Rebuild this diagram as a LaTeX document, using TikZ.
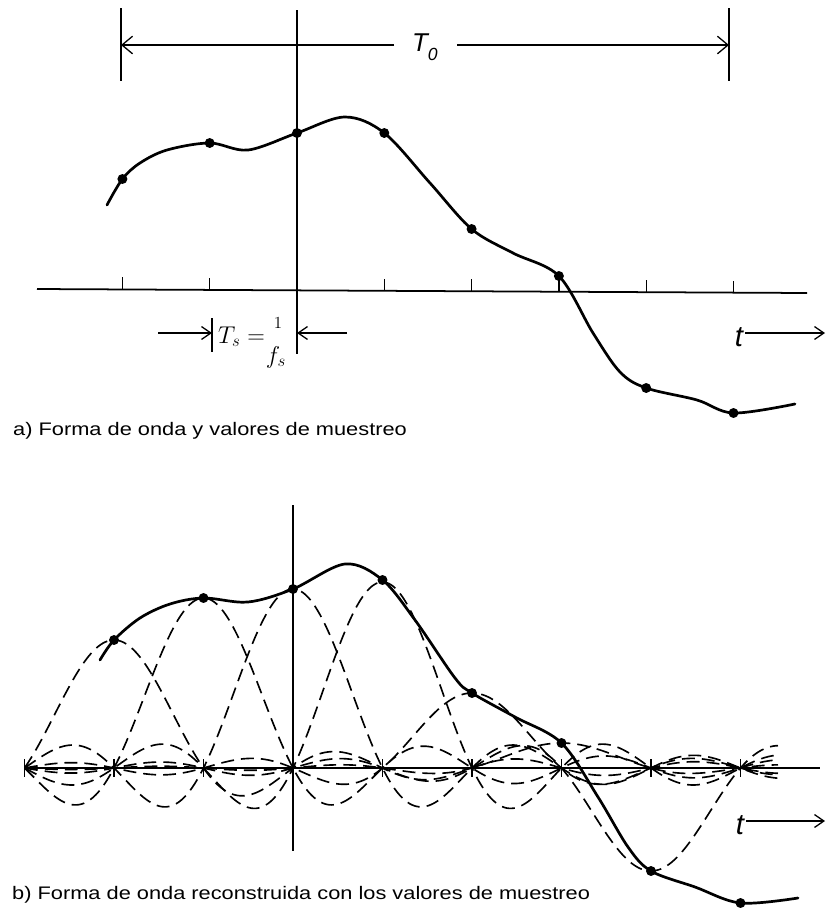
\documentclass[tikz,border=0pt]{standalone}
\usepackage{fontspec}
\setmainfont{Liberation Sans}
\newfontfamily\capfont[FakeStretch=1.2]{Liberation Sans}
\newfontfamily\lblfont{Liberation Sans}
\usetikzlibrary{arrows.meta}
\begin{document}
\begin{tikzpicture}[x=0.03cm,y=-0.03cm,
  wave/.style={line width=2.3pt, line join=round, line cap=round},
  axisline/.style={line width=1.5pt},
  thinline/.style={line width=1.1pt},
  pulse/.style={line width=1.4pt, dash pattern=on 11pt off 6pt},
  sample/.style={circle, fill=black, inner sep=0pt, minimum size=8.5pt},
  barrow/.style={-{Straight Barb[length=8pt,width=11pt,line width=1.1pt]}, line width=1.1pt},
  wbarrow/.style={-{Straight Barb[length=9pt,width=15pt,line width=1.1pt]}, line width=1.1pt},
  caption/.style={anchor=base west, inner sep=0pt, font=\capfont\fontsize{15.5}{18}\selectfont},
  tlabel/.style={inner sep=0pt, font=\lblfont\itshape\fontsize{25}{30}\selectfont},
  mathlbl/.style={inner sep=0pt},
  declare function={snc(\u)=sin(180*(\u+0.00013))/(3.14159*(\u+0.00013));}
]
\useasboundingbox (0,0) rectangle (827,913);

% ================= (a) =================
% T0 dimension
\coordinate (barLt) at (121,8);  \coordinate (barLb) at (121,81);
\coordinate (barRt) at (729,8);  \coordinate (barRb) at (729,81);
\draw[thinline] (barLt) -- (barLb);
\draw[thinline] (barRt) -- (barRb);
\coordinate (dimL) at (121,45); \coordinate (dimR) at (729,45);
\coordinate (gapL) at (394,45); \coordinate (gapR) at (457,45);
\node[inner sep=0pt, font=\lblfont\itshape\fontsize{22}{26}\selectfont] (T0) at (425,47)
  {T\raisebox{-0.35em}{\fontsize{15}{18}\selectfont 0}};
\draw[wbarrow] (gapL) -- (dimL);
\draw[wbarrow] (gapR) -- (dimR);

% axes
\coordinate (axAl) at (37,289); \coordinate (axAr) at (807,293);
\draw[axisline] (axAl) -- (axAr);
\coordinate (vAt) at (297,10); \coordinate (vAb) at (297,354);
\draw[axisline] (vAt) -- (vAb);
\foreach \xx in {122.4,209.7,384.3,471.6,558.9,646.2,733.5}{
  \draw[thinline] (\xx,{289+4*(\xx-37)/770}) -- (\xx,{277+4*(\xx-37)/770});
}

% waveform (a)
\draw[wave] plot[smooth, tension=0.55] coordinates {
  (107,205) (122.4,179) (140,163) (167,150) (209.7,143) (248,150) (297,133)
  (345,117) (384.3,133) (430,183) (471.6,229) (513,253) (558.9,276)
  (593,333) (620,372) (646.2,388) (697,400) (733.5,413) (795,404)};
\node[sample] (a1) at (122.4,179) {};
\node[sample] (a2) at (209.7,143) {};
\node[sample] (a3) at (297,133) {};
\node[sample] (a4) at (384.3,133) {};
\node[sample] (a5) at (471.6,229) {};
\node[sample] (a6) at (558.9,276) {};
\node[sample] (a7) at (646.2,388) {};
\node[sample] (a8) at (733.5,413) {};

% t label (a)
\node[tlabel] (ta) at (739,337) {t};
\coordinate (taE) at (825,333);
\draw[barrow] (ta.east) ++(2,-4) coordinate (taS) -- (taE);

% Ts label
\coordinate (tsBt) at (212,318); \coordinate (tsBb) at (212,352);
\draw[thinline] (tsBt) -- (tsBb);
\coordinate (tsL) at (158,333); \coordinate (tsLe) at (212,333);
\coordinate (tsR) at (347,333); \coordinate (tsRe) at (297,333);
\draw[barrow] (tsL) -- (tsLe);
\draw[barrow] (tsR) -- (tsRe);
\node[mathlbl, anchor=base west, font=\fontsize{22}{26}\selectfont] (tsT) at (218,343) {$T_s=$};
\node[mathlbl, font=\fontsize{15}{18}\selectfont] (tsN) at (278,323) {$1$};
\node[mathlbl, font=\fontsize{20}{24}\selectfont] (tsD) at (276,357) {$f_s$};

\node[caption] (capa) at (13,435) {a) Forma de onda y valores de muestreo};

% ================= (b) =================
\coordinate (axBl) at (25,768); \coordinate (axBr) at (820,768);
\draw[axisline] (axBl) -- (axBr);
\coordinate (vBt) at (293,505); \coordinate (vBb) at (293,851);
\draw[axisline] (vBt) -- (vBb);
\foreach \k in {0,1,2,4,5,6,7,8}{
  \draw[thinline] ({293+89.5*(\k-3)},759) -- ({293+89.5*(\k-3)},777);
}

% sinc pulses
\foreach \xk/\vk in {114/128, 203.5/170, 293/179, 382.5/186, 472/75, 561.5/25, 651/-103}{
  \draw[pulse] plot[domain=25:778, samples=320] (\x,{768-\vk*snc((\x-\xk)/89.5)});
}

% waveform (b)
\draw[wave] plot[smooth, tension=0.55] coordinates {
  (100,660) (114,640) (140,618) (170,604) (203.5,598) (248,602) (293,589)
  (345,564) (382.5,580) (415,620) (455,678) (472,693) (515,717) (561.5,743)
  (598,797) (628,847) (651,871) (695,887) (740.5,903) (798,898)};
\node[sample] (b1) at (114,640) {};
\node[sample] (b2) at (203.5,598) {};
\node[sample] (b3) at (293,589) {};
\node[sample] (b4) at (382.5,580) {};
\node[sample] (b5) at (472,693) {};
\node[sample] (b6) at (561.5,743) {};
\node[sample] (b7) at (651,871) {};
\node[sample] (b8) at (740.5,903) {};

% t label (b)
\node[tlabel] (tb) at (740,825) {t};
\coordinate (tbE) at (825,821);
\draw[barrow] (tb.east) ++(2,-4) coordinate (tbS) -- (tbE);

\node[caption] (capb) at (12,899) {b) Forma de onda reconstruida con los valores de muestreo};
\end{tikzpicture}
\end{document}
